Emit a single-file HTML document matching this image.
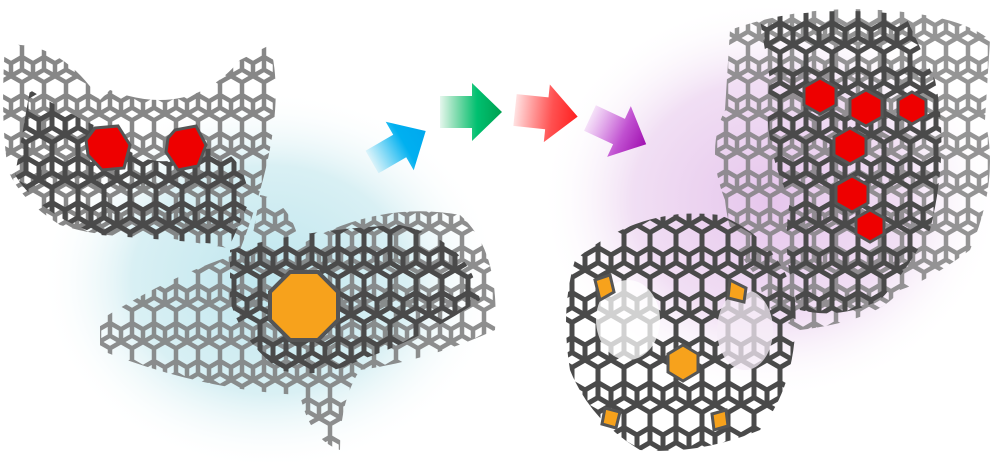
<!DOCTYPE html>
<html><head><meta charset="utf-8"><style>
html,body{margin:0;padding:0;background:#fff;width:1000px;height:462px;overflow:hidden}
svg{display:block}
</style></head><body>
<svg width="1000" height="462" viewBox="0 0 1000 462" xmlns="http://www.w3.org/2000/svg">
<defs>
<radialGradient id="gc" cx="50%" cy="50%" r="50%"><stop offset="0" stop-color="#bfe6ee"/><stop offset="0.6" stop-color="#d9f0f4"/><stop offset="1" stop-color="#fff" stop-opacity="0"/></radialGradient>
<radialGradient id="gp" cx="50%" cy="50%" r="50%"><stop offset="0" stop-color="#e6c6ec"/><stop offset="0.6" stop-color="#f1dff4"/><stop offset="1" stop-color="#fff" stop-opacity="0"/></radialGradient>
<pattern id="hex" width="26" height="45" patternUnits="userSpaceOnUse">
<path d="M13 0 L26 7.5 L26 22.5 L13 30 L0 22.5 L0 7.5 Z M13 30 L13 45 M0 22.5 L0 37.5 M26 22.5 L26 37.5" fill="none" stroke="#4a4a4a" stroke-width="5"/>
<path d="M0 37.5 L13 45 L26 37.5" fill="none" stroke="#4a4a4a" stroke-width="5"/>
</pattern>
<pattern id="hexL" width="22" height="38" patternUnits="userSpaceOnUse">
<path d="M11 0 L22 6.3 L22 19 L11 25.3 L0 19 L0 6.3 Z M11 25.3 L11 38 M0 19 L0 31.7 M22 19 L22 31.7 M0 31.7 L11 38 L22 31.7" fill="none" stroke="#7a7a7a" stroke-width="4.5"/>
</pattern>
<linearGradient id="ac" x1="0" x2="1"><stop offset="0" stop-color="#00b4ee" stop-opacity="0.1"/><stop offset="0.6" stop-color="#00b0f0"/><stop offset="1" stop-color="#00a8ee"/></linearGradient>
<linearGradient id="ag" x1="0" x2="1"><stop offset="0" stop-color="#00b050" stop-opacity="0.1"/><stop offset="0.6" stop-color="#00c070"/><stop offset="1" stop-color="#00a050"/></linearGradient>
<linearGradient id="ar" x1="0" x2="1"><stop offset="0" stop-color="#ff4040" stop-opacity="0.15"/><stop offset="0.6" stop-color="#ff5050"/><stop offset="1" stop-color="#ff2020"/></linearGradient>
<linearGradient id="ap" x1="0" x2="1"><stop offset="0" stop-color="#d070e0" stop-opacity="0.2"/><stop offset="0.6" stop-color="#c050d0"/><stop offset="1" stop-color="#a010b0"/></linearGradient>
</defs>
<ellipse cx="270" cy="280" rx="230" ry="190" fill="url(#gc)"/>
<ellipse cx="770" cy="200" rx="230" ry="200" fill="url(#gp)"/>

<g>
<path d="M5 45 Q60 40 100 100 L110 90 Q190 120 240 60 L270 45 Q290 120 240 250 Q180 240 150 235 Q110 240 60 225 Q20 200 8 170 Q0 120 5 45 Z" fill="url(#hexL)" opacity="0.9"/>
<path d="M30 90 Q80 120 105 130 Q150 180 200 150 Q240 140 250 200 L230 245 Q170 240 100 235 Q40 215 15 175 Z" fill="url(#hex)"/>
<polygon points="95,128 118,126 130,145 124,168 102,170 88,155 86,140" fill="#ee0000" stroke="#555" stroke-width="3"/>
<polygon points="175,130 196,126 206,145 198,166 178,170 166,152 168,138" fill="#ee0000" stroke="#555" stroke-width="3"/>
</g>

<g>
<path d="M100 320 Q180 270 250 250 L260 195 Q290 200 300 245 Q380 200 460 215 Q500 250 495 330 Q430 360 360 370 Q340 400 340 450 Q310 440 300 395 Q200 390 100 350 Z" fill="url(#hexL)" opacity="0.85"/>
<path d="M230 250 Q300 230 400 225 Q470 240 480 300 Q420 340 360 360 Q320 380 280 370 Q240 340 230 300 Z" fill="url(#hex)"/>
<polygon points="290,272 318,272 338,292 338,320 318,340 290,340 270,320 270,292" fill="#f7a21c" stroke="#555" stroke-width="4"/>
</g>

<g>
<path transform="translate(372,162) rotate(-30)" d="M0 -13 L32 -13 L32 -28 L62 0 L32 28 L32 13 L0 13 Z" fill="url(#ac)"/>
<path transform="translate(440,112)" d="M0 -16 L32 -16 L32 -29 L62 0 L32 29 L32 16 L0 16 Z" fill="url(#ag)"/>
<path transform="translate(515,110) rotate(6)" d="M0 -16 L32 -16 L32 -29 L63 0 L32 29 L32 16 L0 16 Z" fill="url(#ar)"/>
<path transform="translate(590,118) rotate(25)" d="M0 -14 L32 -14 L32 -28 L62 0 L32 28 L32 14 L0 14 Z" fill="url(#ap)"/>
</g>

<g>
<path d="M730 30 Q800 5 880 10 Q960 15 990 40 L985 120 Q1000 180 970 250 Q930 280 900 290 Q880 320 800 330 Q760 310 760 280 Q730 250 725 200 Q705 150 725 110 Z" fill="url(#hexL)" opacity="0.8"/>
<path d="M760 20 Q830 5 905 15 L935 80 Q950 150 930 230 Q900 280 880 300 Q840 320 800 310 Q780 260 790 200 Q760 140 770 80 Z" fill="url(#hex)"/>
<g fill="#ee0000" stroke="#555" stroke-width="3">
<polygon points="820,78 836,87 836,105 820,114 804,105 804,87"/>
<polygon points="866,90 882,99 882,117 866,126 850,117 850,99"/>
<polygon points="912,92 926,100 926,116 912,124 898,116 898,100"/>
<polygon points="850,128 866,137 866,155 850,164 834,155 834,137"/>
<polygon points="852,176 868,185 868,203 852,212 836,203 836,185"/>
<polygon points="870,210 884,218 884,234 870,242 856,234 856,218"/>
</g>
</g>

<g>
<path d="M575 260 Q640 205 720 215 Q780 240 795 300 Q800 380 760 430 Q700 455 640 450 Q590 420 570 370 Q560 310 575 260 Z" fill="url(#hex)"/>
<ellipse cx="628" cy="320" rx="32" ry="40" fill="#fff" opacity="0.75"/>
<ellipse cx="745" cy="330" rx="28" ry="40" fill="#f6ecf7" opacity="0.75"/>
<g fill="#f7a21c" stroke="#555" stroke-width="3">
<polygon points="683,345 698,354 698,372 683,381 668,372 668,354"/>
<polygon points="595,280 610,275 614,292 600,300"/>
<polygon points="730,280 746,288 744,302 728,298"/>
<polygon points="605,408 620,412 616,428 602,424"/>
<polygon points="712,414 726,410 728,426 714,430"/>
</g>
</g>
</svg>
</body></html>
